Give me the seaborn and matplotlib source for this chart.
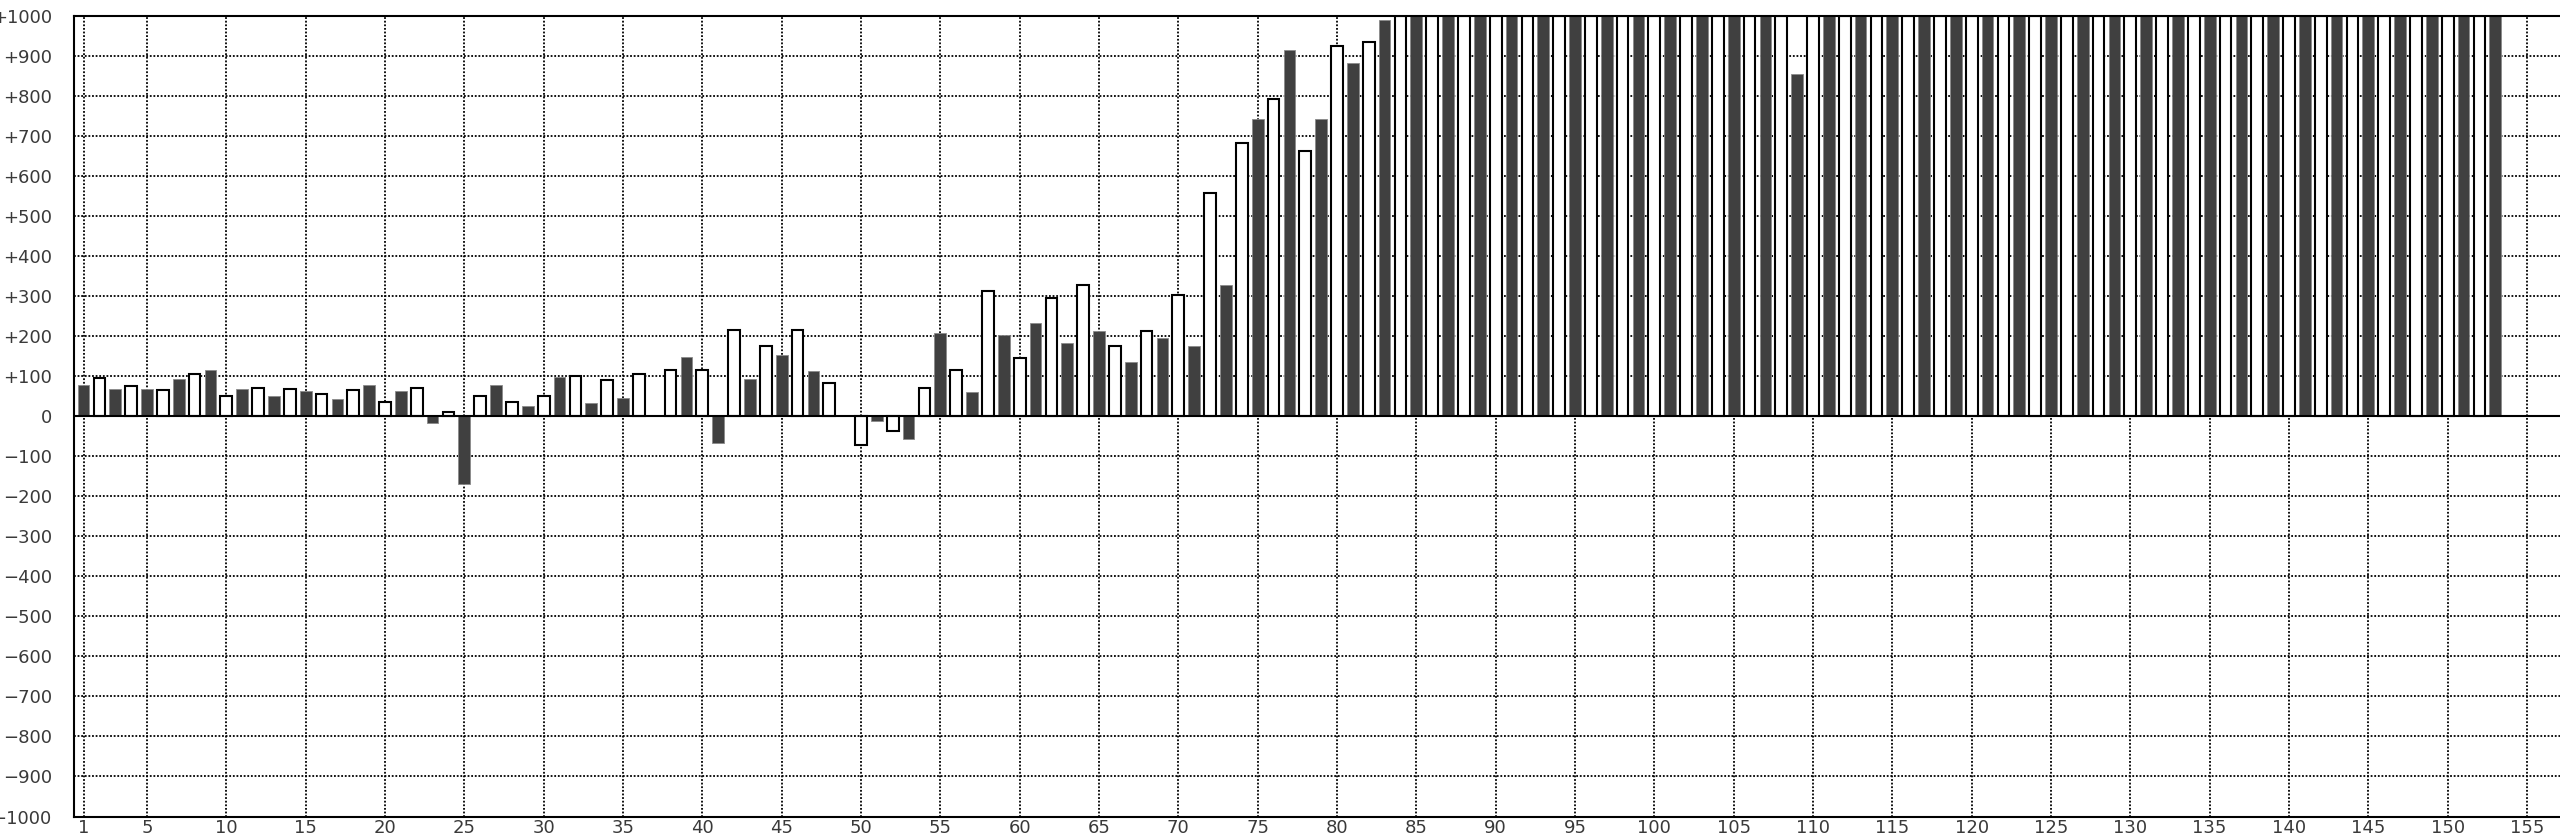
import numpy as np
import pandas as pd
import seaborn as sns
import matplotlib
matplotlib.use("Agg")
import matplotlib.pyplot as plt

# posities 1..153: oneven = donkere staaf, even = witte staaf
posities = list(range(1, 154))
waarden = [
    77, 96, 67, 75, 67, 66, 92, 105, 116, 51,
    67, 71, 51, 67, 62, 56, 42, 66, 77, 35,
    62, 71, -18, 10, -169, 51, 77, 35, 26, 51,
    98, 100, 32, 91, 46, 105, 0, 116, 147, 116,
    -68, 215, 92, 176, 152, 215, 112, 84, 0, -72,
    -13, -37, -58, 70, 208, 116, 61, 312, 202, 145,
    233, 295, 182, 328, 212, 175, 136, 213, 196, 302,
    176, 559, 328, 682, 743, 792, 916, 662, 743, 924,
    882, 934, 990, 1000, 1000, 1000, 1000, 1000, 1000, 1000,
    1000, 1000, 1000, 1000, 1000, 1000, 1000, 1000, 1000, 1000,
    1000, 1000, 1000, 1000, 1000, 1000, 1000, 1000, 855, 1000,
    1000, 1000, 1000, 1000, 1000, 1000, 1000, 1000, 1000, 1000,
    1000, 1000, 1000, 1000, 1000, 1000, 1000, 1000, 1000, 1000,
    1000, 1000, 1000, 1000, 1000, 1000, 1000, 1000, 1000, 1000,
    1000, 1000, 1000, 1000, 1000, 1000, 1000, 1000, 1000, 1000,
    1000, 1000, 1000,
]
x_ticks = [1, 5, 10, 15, 20, 25, 30, 35, 40, 45, 50, 55, 60, 65, 70, 75, 80,
           85, 90, 95, 100, 105, 110, 115, 120, 125, 130, 135, 140, 145, 150, 155]
y_ticks = list(range(-1000, 1001, 100))
y_labels = ["+" + str(t) if t > 0 else ("0" if t == 0 else "\u2212" + str(-t)) for t in y_ticks]

sns.set_theme(style="white")
plt.rcParams["font.family"] = ["DejaVu Sans"]

df = pd.DataFrame({"positie": posities, "waarde": waarden})
df["soort"] = np.where(df["positie"] % 2 == 1, "donker", "wit")

fig = plt.figure(figsize=(25.6, 8.39), dpi=100)
ax = fig.add_axes([74 / 2560, (839 - 816.5) / 839, 1 - 74 / 2560, (816.5 - 16) / 839])

sns.barplot(data=df, x="positie", y="waarde", hue="soort",
            palette={"donker": "#404040", "wit": "white"},
            native_scale=True, dodge=False, width=0.74, saturation=1,
            errorbar=None, legend=False, ax=ax)

# witte staven krijgen een zwarte rand
for p in ax.patches:
    if p.get_facecolor()[0] > 0.9:
        p.set_edgecolor("black")
        p.set_linewidth(1.5)
    else:
        p.set_edgecolor("#8a8a8a")
        p.set_linewidth(0.6)

ax.set_xlim(0.40, 157.08)
ax.set_ylim(-1000, 1000)
ax.set_xticks(x_ticks)
ax.set_xticklabels([str(t) for t in x_ticks])
ax.set_yticks(y_ticks)
ax.set_yticklabels(y_labels)
ax.set_axisbelow(True)
ax.grid(True, color="black", linestyle=(0, (1, 1)), linewidth=1.3)
ax.axhline(0, color="black", lw=1.5, zorder=3)
ax.tick_params(length=0, labelsize=13, labelcolor="#3a3a3a")
ax.tick_params(axis="y", pad=16)
ax.tick_params(axis="x", pad=2)
for kant in ["top", "left", "bottom"]:
    ax.spines[kant].set_color("black")
    ax.spines[kant].set_linewidth(1.5)
ax.spines["right"].set_visible(False)
ax.set_xlabel("")
ax.set_ylabel("")

fig.savefig("out.png", dpi=100)
